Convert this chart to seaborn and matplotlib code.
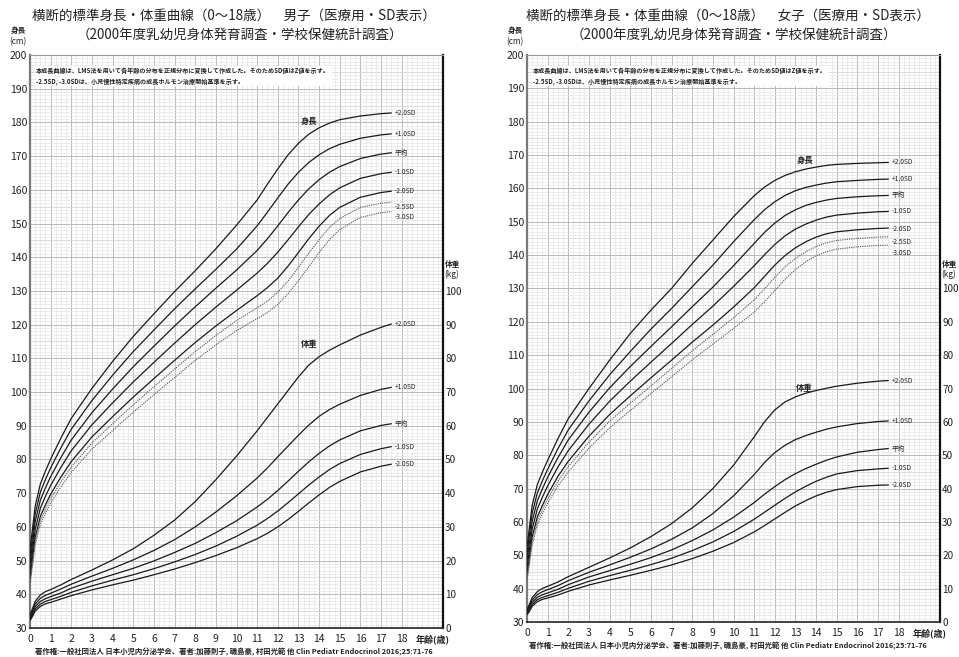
import matplotlib
matplotlib.use("Agg")
import matplotlib.pyplot as plt
from matplotlib.ticker import MultipleLocator
import seaborn as sns

sns.set_theme(style="white")
plt.rcParams['font.family'] = ['Noto Sans CJK JP', 'DejaVu Sans']

W, H = 959, 657

AGES = [0, 0.1, 0.25, 0.5, 0.75, 1, 1.5, 2, 3, 4, 5, 6, 7, 8, 9,
        10, 11, 11.5, 12, 12.5, 13, 13.5, 14, 14.5, 15, 16, 17, 17.5]
SD_LABELS_H = ["+2.0SD", "+1.0SD", "平均", "-1.0SD", "-2.0SD", "-2.5SD", "-3.0SD"]
SD_LABELS_W = ["+2.0SD", "+1.0SD", "平均", "-1.0SD", "-2.0SD"]

# boys height (cm)
b_h_p2 = [53.2, 58.4, 66.1, 72.7, 76.6, 80.1, 86.4, 92.2, 101.1, 109.1, 116.5, 123.2, 129.8, 136.0, 142.5,
          149.5, 157.0, 161.7, 166.2, 170.4, 173.8, 176.5, 178.4, 179.8, 180.8, 181.9, 182.6, 182.8]
b_h_p1 = [51.1, 56.2, 63.8, 70.3, 74.1, 77.5, 83.5, 89.0, 97.5, 105.0, 112.0, 118.4, 124.7, 130.6, 136.4,
          142.4, 149.3, 153.4, 157.6, 161.7, 165.2, 168.1, 170.4, 172.2, 173.5, 175.3, 176.3, 176.6]
b_h_m = [49.0, 54.0, 61.5, 67.9, 71.6, 74.9, 80.6, 85.8, 93.9, 100.9, 107.5, 113.6, 119.6, 125.3, 130.8,
         136.2, 142.0, 145.5, 149.3, 153.3, 157.0, 160.3, 163.0, 165.2, 166.9, 169.3, 170.6, 171.0]
b_h_m1 = [46.9, 51.8, 59.2, 65.5, 69.1, 72.3, 77.7, 82.6, 90.3, 96.8, 103.0, 108.8, 114.5, 120.0, 125.2,
          130.2, 135.3, 138.2, 141.5, 145.2, 149.0, 152.7, 155.8, 158.5, 160.6, 163.4, 164.8, 165.2]
b_h_m2 = [44.8, 49.6, 56.9, 63.1, 66.6, 69.7, 74.8, 79.4, 86.7, 92.7, 98.5, 104.0, 109.4, 114.7, 119.6,
          124.2, 128.6, 131.0, 133.8, 137.4, 141.4, 145.5, 149.2, 152.4, 154.8, 157.8, 159.2, 159.6]
b_h_m25 = [43.7, 48.5, 55.7, 61.9, 65.3, 68.4, 73.3, 77.8, 84.9, 90.6, 96.2, 101.6, 106.8, 112.0, 116.8,
           121.2, 125.0, 127.0, 129.6, 133.0, 137.0, 141.2, 145.2, 148.8, 151.5, 154.8, 156.0, 156.4]
b_h_m3 = [42.7, 47.4, 54.6, 60.7, 64.1, 67.1, 71.9, 76.2, 83.1, 88.6, 94.0, 99.2, 104.3, 109.4, 114.0,
          118.2, 121.8, 123.6, 126.0, 129.2, 133.0, 137.2, 141.4, 145.2, 148.2, 151.8, 153.2, 153.6]

# boys weight (kg)
b_w_p2 = [3.9, 5.4, 7.9, 9.8, 10.8, 11.4, 12.8, 14.4, 17.2, 20.2, 23.5, 27.5, 32.0, 37.5, 44.0,
          51.0, 58.5, 62.5, 66.5, 70.5, 74.5, 78.0, 80.5, 82.4, 84.0, 86.9, 89.2, 90.2]
b_w_p1 = [3.5, 4.8, 7.1, 8.8, 9.7, 10.3, 11.6, 13.0, 15.4, 17.7, 20.2, 23.0, 26.2, 30.0, 34.4,
          39.2, 44.5, 47.5, 50.8, 54.0, 57.2, 60.2, 62.8, 64.8, 66.4, 69.0, 70.8, 71.4]
b_w_m = [3.0, 4.2, 6.3, 7.9, 8.7, 9.3, 10.4, 11.8, 13.9, 15.8, 17.7, 19.9, 22.4, 25.1, 28.3,
         31.8, 35.9, 38.2, 40.8, 43.6, 46.5, 49.3, 51.8, 54.0, 55.8, 58.5, 60.1, 60.6]
b_w_m1 = [2.6, 3.7, 5.6, 7.1, 7.9, 8.4, 9.4, 10.6, 12.5, 14.2, 15.8, 17.6, 19.6, 21.8, 24.3,
          27.2, 30.5, 32.5, 34.7, 37.2, 39.8, 42.4, 44.8, 47.0, 48.8, 51.5, 53.2, 53.8]
b_w_m2 = [2.2, 3.2, 5.0, 6.4, 7.2, 7.6, 8.6, 9.6, 11.3, 12.8, 14.2, 15.8, 17.5, 19.4, 21.5,
          23.8, 26.5, 28.1, 30.0, 32.2, 34.6, 37.1, 39.5, 41.7, 43.5, 46.3, 48.0, 48.6]

# girls height (cm)
g_h_p2 = [52.5, 57.5, 65.0, 71.2, 75.0, 78.5, 85.0, 91.0, 100.0, 108.5, 116.5, 123.5, 130.0, 137.5, 144.5,
          151.5, 157.8, 160.4, 162.4, 163.9, 165.0, 165.8, 166.4, 166.9, 167.2, 167.5, 167.7, 167.8]
g_h_p1 = [50.4, 55.3, 62.6, 68.7, 72.4, 75.8, 82.0, 87.6, 96.3, 104.1, 111.1, 117.8, 124.0, 130.5, 137.0,
          144.0, 150.6, 153.6, 156.0, 157.9, 159.3, 160.3, 161.0, 161.6, 162.0, 162.4, 162.7, 162.8]
g_h_m = [48.4, 53.0, 60.2, 66.3, 70.0, 73.4, 79.3, 84.6, 92.9, 100.2, 106.6, 112.6, 118.5, 124.5, 130.4,
         136.8, 143.5, 146.8, 149.6, 151.9, 153.6, 154.9, 155.8, 156.5, 157.0, 157.5, 157.8, 157.9]
g_h_m1 = [46.4, 50.8, 57.8, 63.9, 67.5, 70.8, 76.5, 81.4, 89.3, 96.2, 102.2, 107.9, 113.5, 119.2, 124.7,
          130.6, 136.8, 140.1, 143.2, 145.8, 147.8, 149.3, 150.5, 151.4, 152.0, 152.6, 153.0, 153.1]
g_h_m2 = [44.4, 48.7, 55.5, 61.5, 65.0, 68.2, 73.7, 78.2, 85.7, 92.2, 97.8, 103.2, 108.5, 113.9, 119.0,
          124.4, 130.2, 133.6, 137.0, 139.9, 142.2, 144.0, 145.4, 146.4, 147.0, 147.6, 148.0, 148.1]
g_h_m25 = [43.4, 47.6, 54.3, 60.3, 63.8, 66.9, 72.2, 76.6, 83.9, 90.2, 95.6, 100.8, 106.0, 111.3, 116.2,
           121.2, 126.6, 129.9, 133.3, 136.5, 139.0, 141.0, 142.6, 143.7, 144.4, 145.0, 145.4, 145.5]
g_h_m3 = [42.4, 46.5, 53.1, 59.1, 62.5, 65.6, 70.8, 75.0, 82.1, 88.2, 93.4, 98.5, 103.5, 108.6, 113.3,
          118.0, 122.9, 126.0, 129.4, 132.8, 135.7, 138.0, 139.8, 141.0, 141.8, 142.5, 142.9, 143.0]

# girls weight (kg)
g_w_p2 = [3.8, 5.1, 7.3, 9.1, 10.1, 10.7, 12.0, 13.6, 16.4, 19.2, 22.2, 25.6, 29.5, 34.2, 40.0,
          47.0, 55.5, 60.0, 63.6, 66.0, 67.5, 68.6, 69.4, 70.1, 70.7, 71.6, 72.2, 72.4]
g_w_p1 = [3.4, 4.6, 6.6, 8.2, 9.1, 9.7, 10.9, 12.4, 14.9, 17.1, 19.4, 21.9, 24.8, 28.2, 32.5,
          37.8, 44.2, 47.8, 50.8, 53.0, 54.7, 55.9, 56.9, 57.8, 58.5, 59.5, 60.1, 60.3]
g_w_m = [2.95, 4.0, 5.9, 7.4, 8.2, 8.7, 9.8, 11.2, 13.5, 15.4, 17.3, 19.3, 21.6, 24.4, 27.6,
         31.4, 35.8, 38.3, 40.6, 42.7, 44.5, 46.0, 47.3, 48.5, 49.5, 50.9, 51.7, 52.0]
g_w_m1 = [2.55, 3.5, 5.3, 6.7, 7.4, 7.9, 8.9, 10.1, 12.2, 13.9, 15.5, 17.2, 19.1, 21.4, 24.0,
          27.1, 30.8, 32.9, 35.0, 37.1, 39.0, 40.7, 42.2, 43.4, 44.4, 45.4, 45.9, 46.1]
g_w_m2 = [2.2, 3.0, 4.7, 6.1, 6.8, 7.2, 8.1, 9.2, 11.1, 12.6, 14.0, 15.5, 17.1, 19.0, 21.2,
          23.8, 27.0, 28.9, 30.9, 32.9, 34.8, 36.4, 37.8, 38.9, 39.7, 40.6, 41.0, 41.1]

TITLE_B = "横断的標準身長・体重曲線（0〜18歳）　男子（医療用・SD表示）"
TITLE_G = "横断的標準身長・体重曲線（0〜18歳）　女子（医療用・SD表示）"
SUBTITLE = "（2000年度乳幼児身体発育調査・学校保健統計調査）"
NOTE = ("本成長曲線は、LMS法を用いて各年齢の分布を正規分布に変換して作成した。そのためSD値はZ値を示す。\n"
        "-2.5SD, -3.0SDは、小児慢性特定疾病の成長ホルモン治療開始基準を示す。")
FOOTER = "著作権:一般社団法人 日本小児内分泌学会、著者:加藤則子, 磯島豪, 村田光範 他 Clin Pediatr Endocrinol 2016;25:71-76"


def fx(x):
    return x / W


def fy(y):
    return 1 - y / H


def panel(fig, rect, heights, weights, title, xcen, hl_pos, wl_pos, lab_off):
    left, top, right, bottom = rect
    ax = fig.add_axes([fx(left), fy(bottom), fx(right - left), (bottom - top) / H])
    ax.set_xlim(0, 20)
    ax.set_ylim(30, 200)

    # chart paper grid
    ax.xaxis.set_major_locator(MultipleLocator(1))
    ax.xaxis.set_minor_locator(MultipleLocator(0.25))
    ax.yaxis.set_major_locator(MultipleLocator(10))
    ax.yaxis.set_minor_locator(MultipleLocator(1))
    ax.grid(which='minor', color='#e3e3e3', lw=0.45)
    ax.grid(which='major', color='#b9b9b9', lw=0.7)
    for v in range(35, 200, 10):
        ax.axhline(v, color='#c6c6c6', lw=0.6, zorder=0.5)
    ax.set_axisbelow(True)

    ax.set_xticks(range(0, 19))
    ax.set_yticks(range(30, 201, 10))
    ax.tick_params(axis='both', which='both', length=0, labelsize=7.5, colors='#222')
    ax.tick_params(axis='x', pad=4)
    ax.tick_params(axis='y', pad=2)

    for sp in ax.spines.values():
        sp.set_visible(True)
    ax.spines['left'].set_color('#7a7a7a')
    ax.spines['left'].set_linewidth(1.6)
    ax.spines['right'].set_color('#111')
    ax.spines['right'].set_linewidth(1.6)
    ax.spines['bottom'].set_color('#222')
    ax.spines['bottom'].set_linewidth(1.2)
    ax.spines['top'].set_color('#999')
    ax.spines['top'].set_linewidth(0.8)

    for i, vals in enumerate(heights):
        dotted = i >= 5
        sns.lineplot(x=AGES, y=vals, ax=ax, color='#555' if dotted else '#1a1a1a',
                     lw=0.8 if dotted else 0.9, linestyle=(0, (1, 1)) if dotted else '-',
                     estimator=None, zorder=3)
        ax.text(17.65, vals[-1] + lab_off[i], SD_LABELS_H[i], fontsize=4.8,
                ha='left', va='center', color='#222')

    ax2 = ax.twinx()
    ax2.set_ylim(0, 170)
    ax2.set_yticks(range(0, 101, 10))
    ax2.tick_params(axis='y', length=0, labelsize=7.2, colors='#222', pad=1.5)
    for sp in ax2.spines.values():
        sp.set_visible(False)
    for i, vals in enumerate(weights):
        sns.lineplot(x=AGES, y=vals, ax=ax2, color='#1a1a1a', lw=0.9,
                     estimator=None, zorder=3)
        ax2.text(17.65, vals[-1], SD_LABELS_W[i], fontsize=4.8,
                 ha='left', va='center', color='#222')
    ax2.set_xlim(0, 20)

    ax.text(hl_pos[0], hl_pos[1], "身長", fontsize=6, fontweight='bold',
            ha='center', va='center', color='#222')
    ax2.text(wl_pos[0], wl_pos[1], "体重", fontsize=6, fontweight='bold',
             ha='center', va='center', color='#222')

    ax.text(0.3, 196.4, NOTE, fontsize=4.4, fontweight='bold', ha='left', va='top',
            linespacing=1.5, color='#222',
            bbox=dict(facecolor='white', edgecolor='none', pad=1.0), zorder=4)

    # titles, axis captions
    fig.text(fx(xcen), fy(16), title, fontsize=9.7, ha='center', va='center', color='#222')
    fig.text(fx(xcen + 6), fy(35), SUBTITLE, fontsize=9.7, ha='center', va='center', color='#222')
    fig.text(fx(left - 12), fy(31), "身長", fontsize=5.5, fontweight='bold', ha='center', va='center')
    fig.text(fx(left - 12), fy(42), "(cm)", fontsize=6, ha='center', va='center')
    fig.text(fx(right + 9), fy(264), "体重", fontsize=5.5, fontweight='bold', ha='center', va='center')
    fig.text(fx(right + 9), fy(274), "(kg)", fontsize=6, ha='center', va='center')
    fig.text(fx(right - 10), fy(bottom + 11), "年齢(歳)", fontsize=6.5, fontweight='bold',
             ha='center', va='center', color='#222')
    fig.text(fx(xcen), fy(bottom + 24), FOOTER, fontsize=5.3, fontweight='bold',
             ha='center', va='center', color='#222')
    return ax


fig = plt.figure(figsize=(W / 100, H / 100), dpi=100)
panel(fig, (30, 55, 443, 628),
      [b_h_p2, b_h_p1, b_h_m, b_h_m1, b_h_m2, b_h_m25, b_h_m3],
      [b_w_p2, b_w_p1, b_w_m, b_w_m1, b_w_m2],
      TITLE_B, 234, (13.5, 180.3), (13.5, 84.0),
      [0, 0, 0, 0, 0, -1.5, -1.8])
panel(fig, (527, 55, 940, 622),
      [g_h_p2, g_h_p1, g_h_m, g_h_m1, g_h_m2, g_h_m25, g_h_m3],
      [g_w_p2, g_w_p1, g_w_m, g_w_m1, g_w_m2],
      TITLE_G, 728, (13.45, 168.3), (13.45, 70.1),
      [0, 0, 0, 0, -0.4, -1.5, -2.4])

fig.savefig("out.png", dpi=100, facecolor='white')
